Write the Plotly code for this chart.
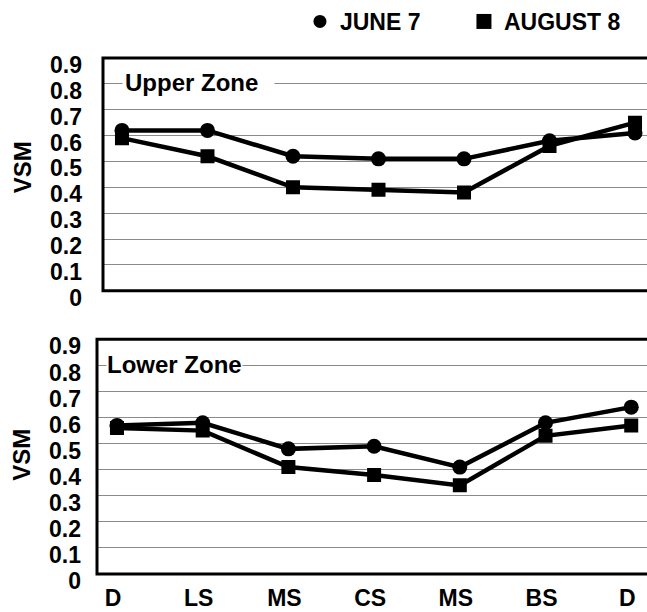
import plotly.graph_objects as go

# Sampling stations along the transect
stations = ["D", "LS", "MS", "CS", "MS", "BS", "D"]
station_pos = list(range(len(stations)))

vsm_ticks = [0, 0.1, 0.2, 0.3, 0.4, 0.5, 0.6, 0.7, 0.8, 0.9]
vsm_tick_labels = ["0", "0.1", "0.2", "0.3", "0.4", "0.5", "0.6", "0.7", "0.8", "0.9"]

# Volumetric soil moisture by zone and date
upper_june7 = [0.62, 0.62, 0.52, 0.51, 0.51, 0.58, 0.61]
upper_aug8 = [0.59, 0.52, 0.40, 0.39, 0.38, 0.56, 0.65]
lower_june7 = [0.57, 0.58, 0.48, 0.49, 0.41, 0.58, 0.64]
lower_aug8 = [0.56, 0.55, 0.41, 0.38, 0.34, 0.53, 0.57]

FONT = "Liberation Sans, Arial, Helvetica, sans-serif"
BLACK = "#000000"
GRID = "#8a8a8a"

fig = go.Figure()


def add_series(y, symbol, size, xa, ya):
    fig.add_trace(go.Scatter(
        x=station_pos, y=y, mode="lines+markers",
        line=dict(color=BLACK, width=4.5),
        marker=dict(symbol=symbol, size=size, color=BLACK),
        xaxis=xa, yaxis=ya, showlegend=False, hoverinfo="skip",
    ))


add_series(upper_june7, "circle", 15, "x", "y")
add_series(upper_aug8, "square", 14, "x", "y")
add_series(lower_june7, "circle", 15, "x2", "y2")
add_series(lower_aug8, "square", 14, "x2", "y2")

# Legend entries (symbols only)
fig.add_trace(go.Scatter(x=[None], y=[None], mode="markers", name="JUNE 7",
                         marker=dict(symbol="circle", size=13, color=BLACK)))
fig.add_trace(go.Scatter(x=[None], y=[None], mode="markers", name="AUGUST 8",
                         marker=dict(symbol="square", size=15, color=BLACK)))

tick_font = dict(family=FONT, size=23, color=BLACK, weight="bold")

yaxis_common = dict(
    range=[0, 0.9], tickvals=vsm_ticks, ticktext=vsm_tick_labels,
    showgrid=True, gridcolor=GRID, gridwidth=1, zeroline=False,
    showline=False, ticks="", tickfont=tick_font, ticklabelshift=7,
    automargin=False,
)
xaxis_common = dict(
    tickvals=station_pos, ticktext=stations, showgrid=False, zeroline=False,
    showline=False, ticks="", tickfont=tick_font, automargin=False,
)

fig.update_layout(
    width=647, height=612,
    margin=dict(l=97, r=0, t=55, b=38),
    paper_bgcolor="white", plot_bgcolor="white",
    font=dict(family=FONT, color=BLACK),
    xaxis=dict(xaxis_common, domain=[0.0109, 1], range=[-0.222, 6.14],
               anchor="y", showticklabels=False),
    yaxis=dict(yaxis_common, domain=[0.549, 1], anchor="x",
               ticklabelstandoff=20),
    xaxis2=dict(xaxis_common, domain=[0, 1], range=[-0.233, 6.184],
                anchor="y2", ticklabelshift=-4, ticklabelstandoff=8),
    yaxis2=dict(yaxis_common, domain=[0, 0.4547], anchor="x2",
                ticklabelstandoff=15),
    legend=dict(orientation="h", x=0.369, xanchor="left", y=1.071,
                yanchor="middle", entrywidth=119, entrywidthmode="pixels",
                font=dict(family=FONT, size=23, color=BLACK, weight="bold"),
                bgcolor="rgba(0,0,0,0)"),
    showlegend=True,
)

# Open frame (top, left, bottom) around each panel
for xa, ya in (("x", "y"), ("x2", "y2")):
    fig.add_shape(type="path", xref=f"{xa} domain", yref=f"{ya} domain",
                  path="M 1,1 L 0,1 L 0,0 L 1,0",
                  line=dict(color=BLACK, width=3), layer="above")

zone_font = dict(family=FONT, size=24, color=BLACK, weight="bold")
fig.add_annotation(x=0, y=0.8, xref="x", yref="y", text="Upper Zone\u00a0\u00a0",
                   xanchor="left", yanchor="middle", showarrow=False,
                   font=zone_font, bgcolor="white", borderpad=2, yshift=1)
fig.add_annotation(x=-0.13, y=0.8, xref="x2", yref="y2", text="Lower Zone",
                   xanchor="left", yanchor="middle", showarrow=False,
                   font=zone_font, bgcolor="white", borderpad=0, yshift=1)

for yc in (0.788, 0.231):
    fig.add_annotation(x=-0.1364, y=yc, xref="paper", yref="paper", text="VSM",
                       textangle=-90, showarrow=False, xanchor="center",
                       yanchor="middle", font=dict(family=FONT, size=24,
                                                   color=BLACK, weight="bold"))

fig.write_html("out.html")
